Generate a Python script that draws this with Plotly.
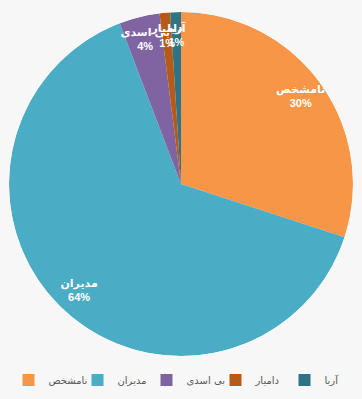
import plotly.graph_objects as go

labels = ["نامشخص", "مدیران", "بی اسدی", "دامیار", "آریا"]
values = [30.0, 64.2, 3.8, 1.0, 1.0]
pct_text = ["30%", "64%", "4%", "1%", "1%"]
colors = ["#F79646", "#4BACC6", "#8064A2", "#B65A17", "#2D7487"]

# slice geometry derived from the values (degrees, clockwise from 12 o'clock)
total = sum(values)
spans = [v / total * 360 for v in values]
mid_theta = []
acc = 0.0
for s in spans:
    mid_theta.append(acc + s / 2)
    acc += s

fig = go.Figure()
for name, v, span, th, col, p in zip(labels, values, spans, mid_theta, colors, pct_text):
    fig.add_trace(go.Barpolar(
        r=[1], theta=[th], width=[span], base=0,
        name=name,
        marker=dict(color=col, line=dict(width=0)),
        hovertemplate=f"{name}: {p}<extra></extra>",
    ))

fig.add_trace(go.Scatterpolar(
    r=[0.86] * len(values),
    theta=mid_theta,
    mode="text",
    text=[f"<b>{n}</b><br><b>{p}</b>" for n, p in zip(labels, pct_text)],
    textposition="middle center",
    textfont=dict(color="white", size=11, family="Liberation Sans, DejaVu Sans, Arial"),
    showlegend=False,
    hoverinfo="skip",
))

fig.update_layout(
    width=362,
    height=399,
    margin=dict(l=9, r=9, t=12, b=43),
    paper_bgcolor="#F7F7F7",
    plot_bgcolor="#F7F7F7",
    showlegend=True,
    polar=dict(
        domain=dict(x=[0, 1], y=[0, 1]),
        bgcolor="rgba(0,0,0,0)",
        angularaxis=dict(rotation=90, direction="clockwise", visible=False),
        radialaxis=dict(range=[0, 1], visible=False),
        bargap=0,
    ),
    legend=dict(
        orientation="h",
        xref="container", x=0.5, xanchor="center",
        yref="container", y=1 - 380 / 399, yanchor="middle",
        entrywidth=24, entrywidthmode="pixels",
        font=dict(size=10, color="#595959", family="DejaVu Sans, Liberation Sans"),
        itemclick=False,
    ),
)

fig.write_html("out.html", config={"displayModeBar": False},
               post_script="document.body.style.margin='0';")
